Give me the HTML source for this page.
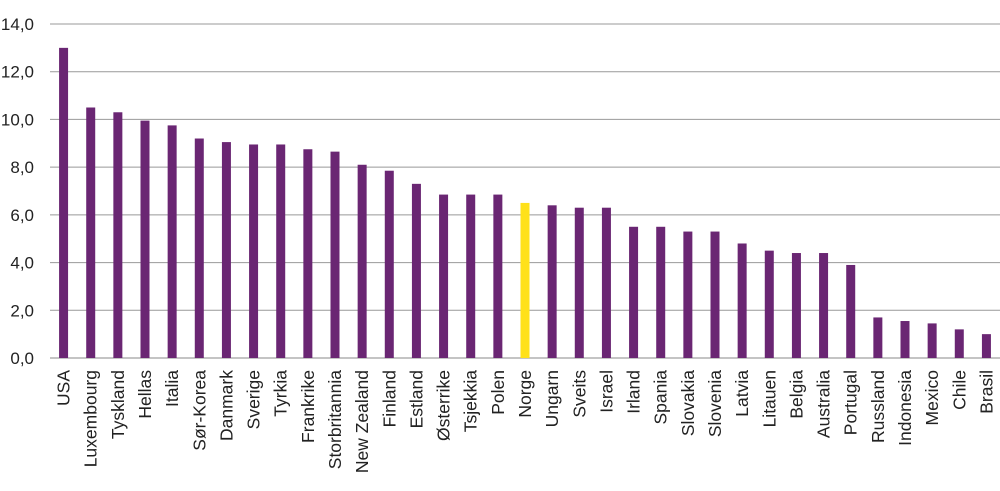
<!DOCTYPE html>
<html><head><meta charset="utf-8"><style>
body{margin:0;background:#fff;font-family:"Liberation Sans",sans-serif;}
svg text{font-family:"Liberation Sans",sans-serif;fill:#222;}
</style></head><body>
<svg id="chart" width="1000" height="486"></svg>
<script>
const categories=["USA","Luxembourg","Tyskland","Hellas","Italia","Sør-Korea","Danmark","Sverige","Tyrkia","Frankrike","Storbritannia","New Zealand","Finland","Estland","Østerrike","Tsjekkia","Polen","Norge","Ungarn","Sveits","Israel","Irland","Spania","Slovakia","Slovenia","Latvia","Litauen","Belgia","Australia","Portugal","Russland","Indonesia","Mexico","Chile","Brasil"];
const values=[13.0,10.5,10.3,9.95,9.75,9.2,9.05,8.95,8.95,8.75,8.65,8.1,7.85,7.3,6.85,6.85,6.85,6.5,6.4,6.3,6.3,5.5,5.5,5.3,5.3,4.8,4.5,4.4,4.4,3.9,1.7,1.55,1.45,1.2,1.0];
const yTicks=[0,2,4,6,8,10,12,14];
const highlight="Norge";
const svg=document.getElementById('chart');
const NS="http://www.w3.org/2000/svg";
const x0=50,x1=1000,yTop=24,yBot=358,yMax=14;
const y=v=>yBot-(v/yMax)*(yBot-yTop);
const step=(x1-x0)/categories.length;
const xc=i=>x0+step*(i+0.5);
function mk(t,a){const e=document.createElementNS(NS,t);for(const k in a)e.setAttribute(k,a[k]);svg.appendChild(e);return e;}
yTicks.forEach(t=>{
  const l=mk('line',{x1:x0,x2:x1,y1:y(t),y2:y(t),stroke:t===0?'#888':'#999','stroke-width':1});
  
  
  const tx=mk('text',{x:34,y:y(t)+6,'text-anchor':'end','font-size':17});
  tx.textContent=t.toFixed(1).replace('.',',');
  
  
});
categories.forEach((c,i)=>{
  const bw=9;
  const r=mk('rect',{x:xc(i)-bw/2,y:y(values[i]),width:bw,height:yBot-y(values[i]),fill:c===highlight?'#ffe11a':'#6a2673'});
  
  
  const tx=mk('text',{x:0,y:0,'text-anchor':'end',transform:`translate(${xc(i)+6},${yBot+12}) rotate(-90)`,'font-size':17.5});
  tx.textContent=c;
  
  
});
</script>
</body></html>
